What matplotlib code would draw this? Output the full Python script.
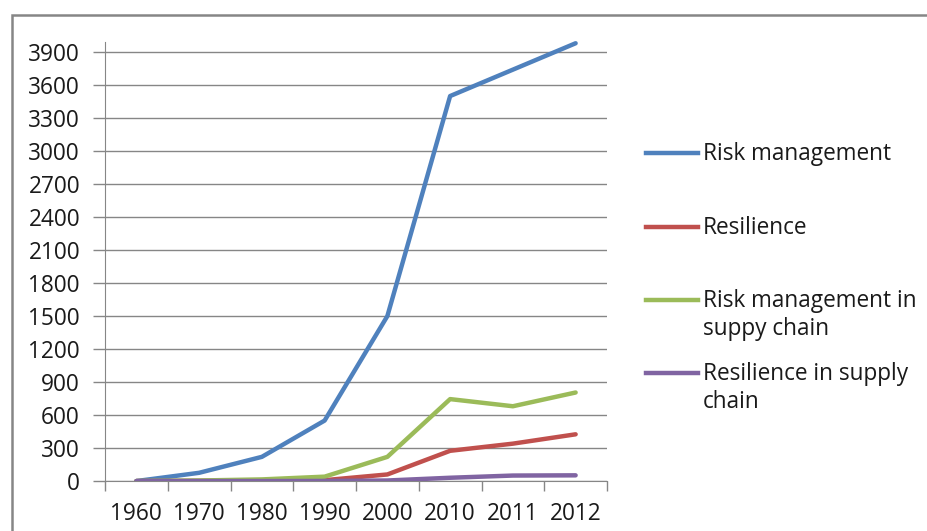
import matplotlib.pyplot as plt
from matplotlib.lines import Line2D
from matplotlib.patches import Rectangle

years = ['1960', '1970', '1980', '1990', '2000', '2010', '2011', '2012']
risk_mgmt = [0, 75, 220, 550, 1500, 3500, 3740, 3980]
resilience = [0, 2, 4, 8, 60, 275, 340, 425]
risk_mgmt_sc = [0, 5, 15, 40, 220, 745, 680, 805]
resilience_sc = [0, 0, 0, 1, 5, 30, 50, 52]

series = [
    ('Risk management', risk_mgmt, '#4F81BD'),
    ('Resilience', resilience, '#C0504D'),
    ('Risk management in\nsuppy chain', risk_mgmt_sc, '#9BBB59'),
    ('Resilience in supply\nchain', resilience_sc, '#8064A2'),
]

plt.rcParams['font.family'] = ['Open Sans', 'DejaVu Sans']
W, H = 927, 531
FS = 16.3
fig = plt.figure(figsize=(W / 100, H / 100), dpi=100)

# outer chart frame, open on the right and bottom
fig.add_artist(Rectangle((11.5 / W, -0.1), 2.0, (H - 14.5) / H + 0.1,
                         transform=fig.transFigure, fill=False,
                         edgecolor='#868686', lw=1.8))

ax = fig.add_axes([105 / W, 1 - 481 / H - 0.0001, (607 - 105) / W, (481 - 52) / H * 4095 / 3900])
x = list(range(len(years)))
for label, vals, col in series:
    ax.plot(x, vals, color=col, lw=3.2, solid_capstyle='round', zorder=3)

ax.set_xlim(-0.5, len(years) - 0.5)
ax.set_ylim(0, 4095)
ax.set_yticks(range(0, 3901, 300))
ax.set_xticks([i - 0.5 for i in range(len(years) + 1)], minor=False)
ax.set_xticklabels([])
ax.set_xticks(x, minor=True)
ax.set_xticklabels(years, minor=True)
ax.tick_params(axis='x', which='minor', length=0, pad=15, labelsize=FS, labelcolor='#1a1a1a')
ax.tick_params(axis='x', which='major', length=7, color='#868686', width=1)
ax.tick_params(axis='y', length=9, color='#868686', width=1, labelsize=FS,
               labelcolor='#1a1a1a', pad=9)
ax.grid(axis='y', color='#868686', lw=1)
for s in ['top', 'right']:
    ax.spines[s].set_visible(False)
ax.spines['left'].set_color('#868686')
ax.spines['bottom'].set_color('#868686')
ax.spines['left'].set_bounds(0, 3900 + 95)

# legend drawn to the right of the plot
legend_y = [153, 227, 300, 373]
for (label, vals, col), yy in zip(series, legend_y):
    fy = 1 - yy / H
    fig.add_artist(Line2D([646 / W, 698 / W], [fy, fy], color=col, lw=3.2,
                          transform=fig.transFigure))
    fig.text(703 / W, fy + 11 / H, label, fontsize=FS, color='#1a1a1a',
             va='top', ha='left', linespacing=1.2,
             transform=fig.transFigure)

fig.savefig('out.png', dpi=100)
